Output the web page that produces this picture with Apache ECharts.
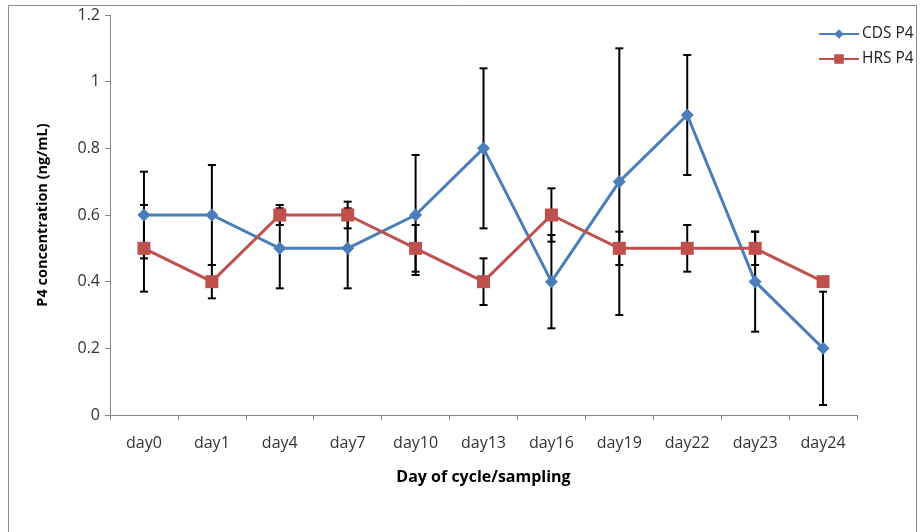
<!DOCTYPE html>
<html>
<head>
<meta charset="utf-8">
<script src="https://cdn.jsdelivr.net/npm/echarts@6/dist/echarts.min.js"></script>
<style>
html,body{margin:0;padding:0;background:#fff;}
#chart{width:922px;height:532px;}
</style>
</head>
<body>
<div id="chart"></div>
<script>
const categories = ['day0','day1','day4','day7','day10','day13','day16','day19','day22','day23','day24'];
const cdsValues = [0.6, 0.6, 0.5, 0.5, 0.6, 0.8, 0.4, 0.7, 0.9, 0.4, 0.2];
const cdsErrors = [0.13, 0.15, 0.12, 0.12, 0.18, 0.24, 0.14, 0.4, 0.18, 0.15, 0.17];
const hrsValues = [0.5, 0.4, 0.6, 0.6, 0.5, 0.4, 0.6, 0.5, 0.5, 0.5, 0.4];
const hrsErrors = [0.13, 0.05, 0.03, 0.04, 0.07, 0.07, 0.08, 0.05, 0.07, 0.05, 0];
const yTicks = [0, 0.2, 0.4, 0.6, 0.8, 1, 1.2];

function errData(vals, errs) {
  return vals.map((v, i) => [i, v - errs[i], v + errs[i]]);
}

function renderErr(params, api) {
  const x = api.value(0);
  const lo = api.coord([x, api.value(1)]);
  const hi = api.coord([x, api.value(2)]);
  const hw = 4;
  const style = {stroke: '#000', lineWidth: 2};
  if (Math.abs(lo[1] - hi[1]) < 0.5) return null;
  return {
    type: 'group',
    children: [
      {type: 'line', shape: {x1: lo[0], y1: lo[1], x2: hi[0], y2: hi[1]}, style: style},
      {type: 'line', shape: {x1: lo[0] - hw, y1: lo[1], x2: lo[0] + hw, y2: lo[1]}, style: style},
      {type: 'line', shape: {x1: hi[0] - hw, y1: hi[1], x2: hi[0] + hw, y2: hi[1]}, style: style}
    ]
  };
}

const chart = echarts.init(document.getElementById('chart'));
const font = 'Open Sans, Noto Sans, sans-serif';
chart.setOption({
  animation: false,
  backgroundColor: '#fff',
  graphic: [{
    type: 'rect',
    shape: {x: 8.5, y: 5.5, width: 908, height: 540},
    style: {fill: 'none', stroke: '#8c8c8c', lineWidth: 1},
    silent: true
  }],
  grid: {left: 110, right: 65, top: 15, bottom: 117},
  legend: {
    orient: 'vertical',
    left: 813,
    top: 21,
    itemGap: 9,
    itemWidth: 40,
    itemHeight: 12,
    textStyle: {fontFamily: font, fontSize: 15.5, color: '#222', padding: [0, 0, 0, -2]},
    data: ['CDS P4', 'HRS P4']
  },
  xAxis: {
    type: 'category',
    data: categories,
    boundaryGap: true,
    axisLine: {lineStyle: {color: '#868686', width: 1}},
    axisTick: {show: true, length: 5, lineStyle: {color: '#868686'}},
    axisLabel: {fontFamily: font, fontSize: 16, color: '#333', margin: 20},
    name: 'Day of cycle/sampling',
    nameLocation: 'middle',
    nameGap: 54,
    nameTextStyle: {fontFamily: font, fontSize: 16, fontWeight: 'bold', color: '#000'}
  },
  yAxis: {
    type: 'value',
    min: yTicks[0],
    max: yTicks[yTicks.length - 1],
    interval: 0.2,
    splitLine: {show: false},
    axisLine: {show: true, lineStyle: {color: '#868686', width: 1}},
    axisTick: {show: true, length: 5, lineStyle: {color: '#868686'}},
    axisLabel: {fontFamily: font, fontSize: 16, color: '#333', margin: 10},
    name: 'P4 concentration (ng/mL)',
    nameLocation: 'middle',
    nameRotate: 90,
    nameGap: 60,
    nameTextStyle: {fontFamily: font, fontSize: 14.5, fontWeight: 'bold', color: '#000'}
  },
  series: [
    {
      name: 'CDS P4 err',
      type: 'custom',
      renderItem: renderErr,
      data: errData(cdsValues, cdsErrors),
      encode: {x: 0, y: [1, 2]},
      z: 1,
      silent: true
    },
    {
      name: 'HRS P4 err',
      type: 'custom',
      renderItem: renderErr,
      data: errData(hrsValues, hrsErrors),
      encode: {x: 0, y: [1, 2]},
      z: 1,
      silent: true
    },
    {
      name: 'CDS P4',
      type: 'line',
      data: cdsValues,
      color: '#4a7ebb',
      lineStyle: {width: 3, color: '#4a7ebb'},
      symbol: 'diamond',
      symbolSize: 13,
      itemStyle: {color: '#4a7ebb'},
      z: 3
    },
    {
      name: 'HRS P4',
      type: 'line',
      data: hrsValues,
      color: '#c0504d',
      lineStyle: {width: 3, color: '#c0504d'},
      symbol: 'rect',
      symbolSize: 13,
      itemStyle: {color: '#c0504d'},
      z: 4
    }
  ]
});
</script>
</body>
</html>
